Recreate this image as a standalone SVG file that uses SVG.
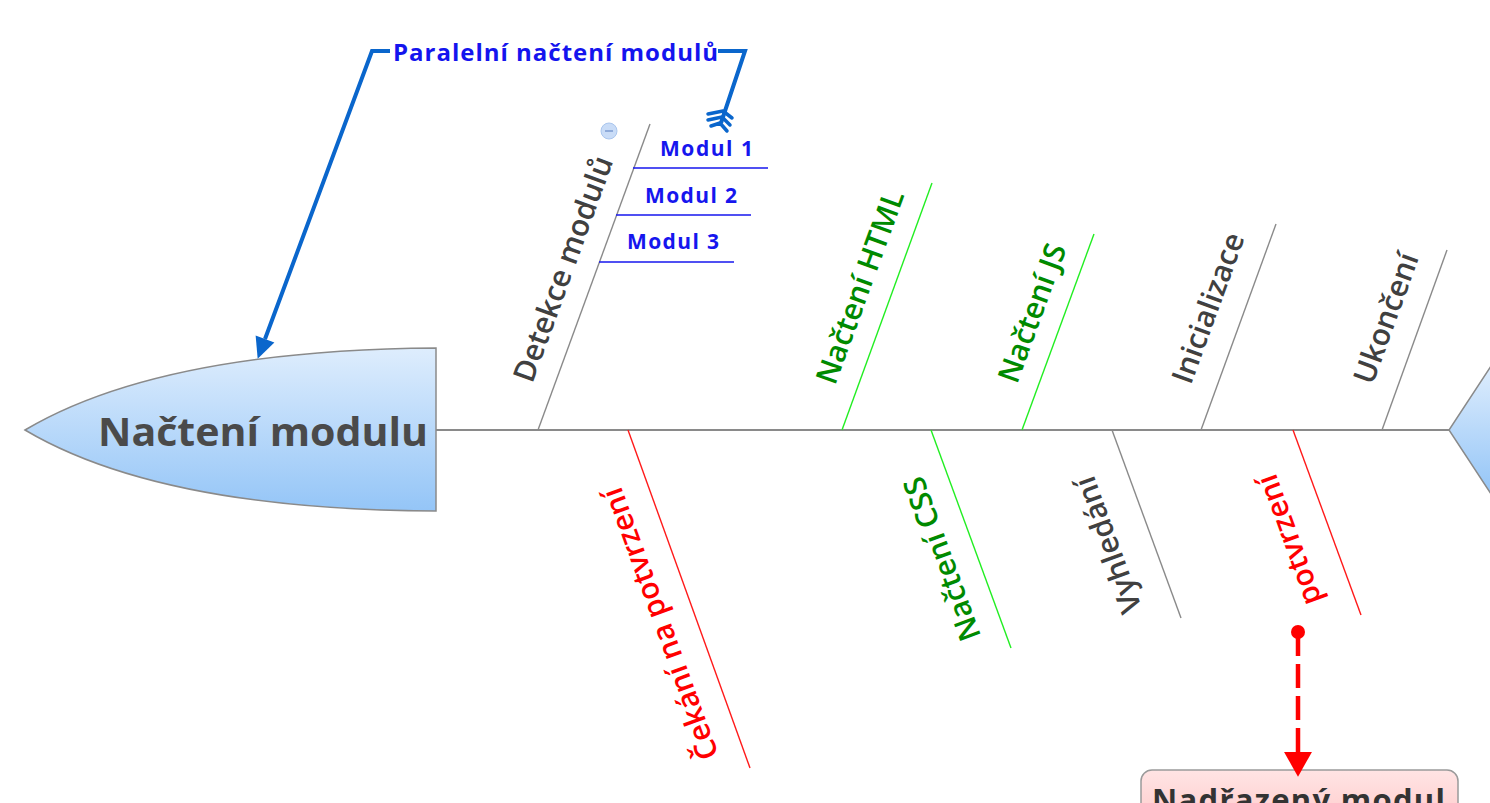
<svg xmlns="http://www.w3.org/2000/svg" width="1490" height="803" viewBox="0 0 1490 803">
<defs>
<linearGradient id="gBlue" x1="0" y1="0" x2="0" y2="1"><stop offset="0" stop-color="#deedfd"/><stop offset="1" stop-color="#94c5f7"/></linearGradient>
<linearGradient id="gPink" x1="0" y1="0" x2="0" y2="1"><stop offset="0" stop-color="#ffe4e4"/><stop offset="1" stop-color="#ffc4c4"/></linearGradient>
<marker id="arrBlue" markerUnits="userSpaceOnUse" markerWidth="24" markerHeight="24" viewBox="0 -12 22 24" refX="0" refY="0" orient="auto"><path d="M0,-10 L21,0 L0,10 Z" fill="#0a66cc"/></marker>
<marker id="arrRed" markerUnits="userSpaceOnUse" markerWidth="30" markerHeight="30" viewBox="0 -14 24 28" refX="0" refY="0" orient="auto"><path d="M0,-13 L23,0 L0,13 Z" fill="#ff0000"/></marker>
</defs>
<style>
text{font-family:"Open Sans","Noto Sans","DejaVu Sans",sans-serif}
.lbl{font-size:30px;font-weight:600;text-anchor:middle}
.gray{fill:#404040}
.green{fill:#008a00}
.red{fill:#ff0000}
.bone{stroke-width:1.4;fill:none}
.bg{stroke:#8a8a8a}
.bgr{stroke:#22ee22}
.br{stroke:#ff1a1a}
.mod{font-size:21px;font-weight:bold;fill:#1616ee}
.modl{stroke:#1616ee;stroke-width:1.6}
</style>

<g id="spine"><path d="M436,430 H1449" stroke="#8a8a8a" stroke-width="2" fill="none"/></g>

<g id="head">
<path d="M436,348 L436,511 Q160,510 25,430 Q160,350 436,348 Z" fill="url(#gBlue)" stroke="#8a8a8a" stroke-width="1.5"/>
<text x="98" y="446" font-size="40" font-weight="bold" fill="#4a4a4a" textLength="330" lengthAdjust="spacingAndGlyphs">Načtení modulu</text>
</g>

<g id="tail">
<path d="M1491,366 L1449,430 L1491,494" fill="url(#gBlue)" stroke="#8a8a8a" stroke-width="1.5"/>
</g>

<g id="detekce">
<line class="bone bg" x1="538" y1="430" x2="650" y2="124"/>
<text class="lbl gray" transform="translate(563,269) rotate(-70)" y="10.5">Detekce modulů</text>
<circle cx="609" cy="131" r="8" fill="#c9dcf7" stroke="#aac6ee" stroke-width="1"/>
<line x1="605" y1="131" x2="613" y2="131" stroke="#7b9bd0" stroke-width="1.5"/>
</g>

<g id="modul1"><line class="modl" x1="633" y1="168" x2="768" y2="168"/><text class="mod" x="660" y="156" textLength="93">Modul 1</text></g>
<g id="modul2"><line class="modl" x1="616" y1="215" x2="751" y2="215"/><text class="mod" x="645" y="203" textLength="92">Modul 2</text></g>
<g id="modul3"><line class="modl" x1="599" y1="262" x2="734" y2="262"/><text class="mod" x="627" y="249" textLength="92">Modul 3</text></g>

<g id="html"><line class="bone bgr" x1="842" y1="430" x2="932" y2="183"/><text class="lbl green" transform="translate(860,287) rotate(-70)" y="10.5">Načtení HTML</text></g>
<g id="js"><line class="bone bgr" x1="1022" y1="430" x2="1094" y2="234"/><text class="lbl green" transform="translate(1032,313) rotate(-70)" y="10.5">Načtení JS</text></g>
<g id="inicializace"><line class="bone bg" x1="1201" y1="430" x2="1276" y2="224"/><text class="lbl gray" transform="translate(1208,308) rotate(-70)" y="10.5">Inicializace</text></g>
<g id="ukonceni"><line class="bone bg" x1="1382" y1="430" x2="1447" y2="250"/><text class="lbl gray" transform="translate(1386,318) rotate(-70)" y="10.5">Ukončení</text></g>

<g id="cekani"><line class="bone br" x1="628" y1="430" x2="750" y2="768"/><text class="lbl red" transform="translate(660,624) rotate(-110)" y="10.5">Čekání na potvrzení</text></g>
<g id="css"><line class="bone bgr" x1="931" y1="430" x2="1011" y2="648"/><text class="lbl green" transform="translate(942,559) rotate(-110)" y="10.5">Načtení CSS</text></g>
<g id="vyhledani"><line class="bone bg" x1="1112" y1="430" x2="1181" y2="618"/><text class="lbl gray" transform="translate(1108,545) rotate(-110)" y="10.5">Vyhledání</text></g>
<g id="potvrzeni"><line class="bone br" x1="1293" y1="430" x2="1361" y2="615"/><text class="lbl red" transform="translate(1289,540) rotate(-110)" y="10.5">potvrzení</text></g>

<g id="nadrazeny">
<rect x="1141" y="770" width="317" height="70" rx="11" fill="url(#gPink)" stroke="#9a9a9a" stroke-width="1.5"/>
<text x="1152" y="811" font-size="31" font-weight="bold" fill="#333333" textLength="293">Nadřazený modul</text>
</g>

<g id="connectors">
<g id="rel-paralelni">
<path d="M390,51 H372 L265,339" fill="none" stroke="#0a66cc" stroke-width="4" stroke-linejoin="miter" marker-end="url(#arrBlue)"/>
<path d="M718,51 H745 L721,123" fill="none" stroke="#0a66cc" stroke-width="4"/>
<path d="M708,114 L723,111 L732,118 M708,120 L722,117 L730,125 M711,126 L720,123 L727,131" fill="none" stroke="#0a66cc" stroke-width="3.5" stroke-linecap="round" stroke-linejoin="round"/>
<text x="393" y="61" font-size="24" font-weight="bold" fill="#1414ee" textLength="325">Paralelní načtení modulů</text>
</g>
<g id="rel-potvrzeni">
<circle cx="1298" cy="632" r="7" fill="#ff0000"/>
<path d="M1298,632 V752" fill="none" stroke="#ff0000" stroke-width="4.5" stroke-dasharray="24,8" marker-end="url(#arrRed)"/>
</g>
</g>
</svg>
